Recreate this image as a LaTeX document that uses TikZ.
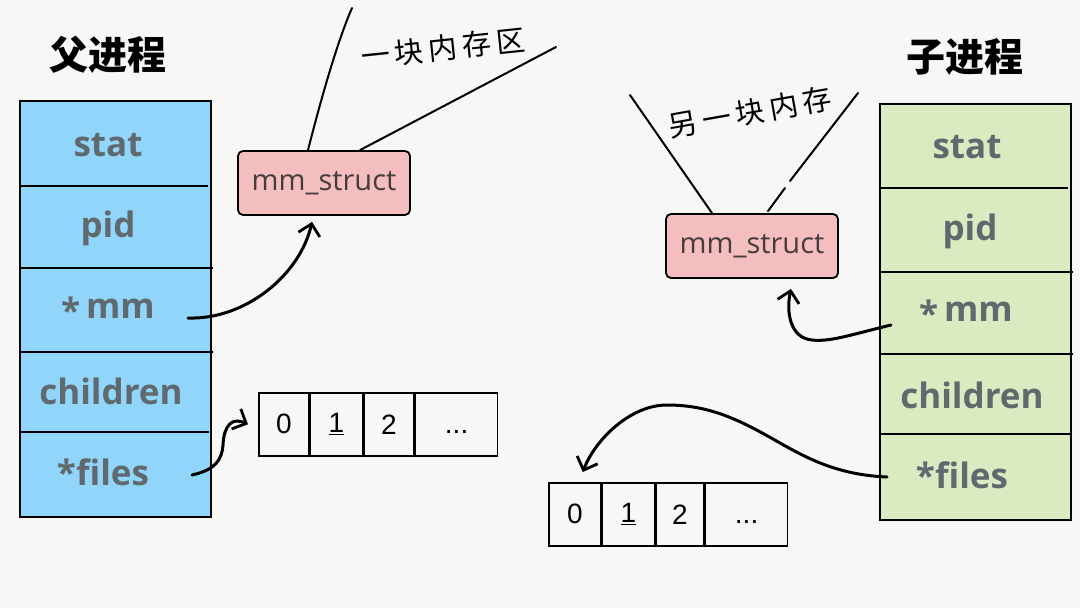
\documentclass[tikz,border=0pt]{standalone}
\usepackage{fontspec}
\setsansfont{Open Sans}
\newfontfamily\cjk{Noto Sans CJK SC}
\newfontfamily\handfont{Liberation Sans}
\usetikzlibrary{arrows.meta}
\definecolor{bgc}{RGB}{247,247,246}
\definecolor{pblue}{RGB}{145,213,250}
\definecolor{cgreen}{RGB}{218,234,193}
\definecolor{mmpink}{RGB}{245,190,190}
\definecolor{fieldtxt}{RGB}{95,105,110}
\definecolor{mmtxt}{RGB}{70,60,60}
\newcommand{\gp}{\hspace{5pt}}
\begin{document}
\begin{tikzpicture}[x=1pt,y=-1pt,
 field/.style={font=\sffamily\bfseries\fontsize{35}{35}\selectfont, text=fieldtxt, inner sep=0pt},
 ptitle/.style={font=\cjk\bfseries\fontsize{39}{39}\selectfont},
 mmbox/.style={draw=black, line width=1.8pt, fill=mmpink, rounded corners=5pt, minimum width=172pt, minimum height=64pt, inner sep=0pt, font=\sffamily\fontsize{29}{29}\selectfont, text=mmtxt},
 cell/.style={draw, line width=1.6pt, minimum height=63pt, inner sep=0pt, anchor=north west, font=\handfont\fontsize{28}{28}\selectfont},
 hand/.style={font=\cjk\fontsize{29}{29}\selectfont, inner sep=0pt},
 boxline/.style={line width=1.9pt},
 sketch/.style={line width=2pt, line cap=round},
 ptr/.style={line width=3pt, line cap=round, -{Straight Barb[length=11pt,width=22pt,line width=2.8pt]}},
]
\useasboundingbox[fill=bgc] (0,0) rectangle (1080,608);

% parent process
\node[ptitle] (ptitle) at (108,55) {父进程};
\draw[boxline, fill=pblue] (20,101) rectangle (211,517);
\draw[boxline] (20,186) -- (208,186);
\draw[boxline] (20,268) -- (213,268);
\draw[boxline] (20,352) -- (213,352);
\draw[boxline] (20,432) -- (209,432);
\node[field] (pstat) at (108,145) {stat};
\node[field] (ppid) at (108,228) {pid};
\node[field] (pmm) at (108,310) {\raisebox{-0.25ex}{*}\,mm};
\node[field] (pchildren) at (111,391) {children};
\node[field] (pfiles) at (103,472) {*files};

% child process
\node[ptitle] (ctitle) at (965,57) {子进程};
\draw[boxline, fill=cgreen] (880,104) rectangle (1071,520);
\draw[boxline] (880,188) -- (1068,188);
\draw[boxline] (880,272) -- (1073,272);
\draw[boxline] (880,354) -- (1073,354);
\draw[boxline] (880,434) -- (1070,434);
\node[field] (cstat) at (967,147) {stat};
\node[field] (cpid) at (970,231) {pid};
\node[field] (cmm) at (966,313) {\raisebox{-0.25ex}{*}\,mm};
\node[field] (cchildren) at (972,395) {children};
\node[field] (cfiles) at (962,475) {*files};

% mm_struct boxes
\node[mmbox] (pmms) at (324,183) {mm\_struct};
\node[mmbox] (cmms) at (752,246) {mm\_struct};

% memory region lines
\coordinate (pm1) at (352,8);
\coordinate (pm2) at (556,47);
\draw[sketch] ([xshift=-16pt]pmms.north) .. controls (322,95) and (338,40) .. (pm1);
\draw[sketch] ([xshift=36pt]pmms.north) -- (pm2);
\node[hand, rotate=6] (plabel) at (443,48) {一\gp 块\gp 内\gp 存\gp 区};

\coordinate (cm1) at (630,95);
\coordinate (cmg1) at (785,188);
\coordinate (cmg2) at (790,181);
\coordinate (cm2) at (858,93);
\draw[sketch] ([xshift=-40pt]cmms.north) -- (cm1);
\draw[sketch] ([xshift=16pt,yshift=2pt]cmms.north) -- (cmg1);
\draw[sketch] (cmg2) -- (cm2);
\node[hand, rotate=10] (clabel) at (750,112) {另\gp 一\gp 块\gp 内\gp 存};

% file arrays
\node[cell, minimum width=50pt] (pa0) at (258,392) {0};
\node[cell, minimum width=52pt] (pa1) at (pa0.north east) {\underline{1}};
\node[cell, minimum width=50pt] (pa2) at (pa1.north east) {2};
\node[cell, minimum width=82pt] (pa3) at (pa2.north east) {\raisebox{-1.2ex}{...}};

\node[cell, minimum width=52pt] (ca0) at (548,482) {0};
\node[cell, minimum width=52pt] (ca1) at (ca0.north east) {\underline{1}};
\node[cell, minimum width=48pt] (ca2) at (ca1.north east) {2};
\node[cell, minimum width=82pt] (ca3) at (ca2.north east) {\raisebox{-1.2ex}{...}};

% pointers
\draw[ptr] ([shift={(80pt,-8pt)}]pmm.center) .. controls (245,320) and (300,275) .. ([shift={(-12pt,-6pt)}]pmms.south);
\draw[ptr] ([shift={(-75pt,-12pt)}]cmm.center) .. controls (850,335) and (830,342) .. (812,340) .. controls (790,338) and (786,312) .. ([shift={(39pt,-10pt)}]cmms.south);
\draw[ptr] ([shift={(89pt,-3pt)}]pfiles.center) .. controls (215,470) and (222,460) .. (223,445) .. controls (224,425) and (232,417) .. ([shift={(-10pt,0pt)}]pa0.west);
\draw[ptr] ([shift={(-75pt,-2pt)}]cfiles.center) .. controls (840,475) and (810,460) .. (780,443) .. controls (740,420) and (710,405) .. (667,405) .. controls (630,405) and (595,440) .. ([shift={(8pt,10pt)}]ca0.north);
\end{tikzpicture}
\end{document}
